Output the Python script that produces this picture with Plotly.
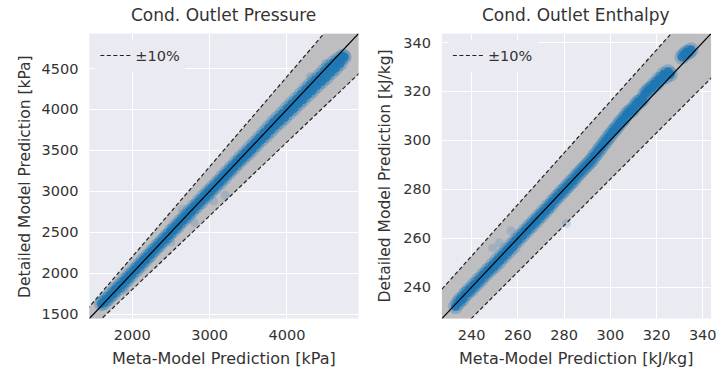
import plotly.graph_objects as go

# ---------------- data ----------------
# Left panel: condenser outlet pressure [kPa]
p_meta = [1600, 1630, 1660, 1690, 1720, 1750, 1780, 1810, 1840, 1870, 1900, 1930, 1960,
          1990, 2020, 2050, 2080, 2110, 2140, 2170, 2200, 2230, 2260, 2290, 2320, 2350,
          2380, 2410, 2440, 2470, 2500, 2530, 2560, 2590, 2620, 2650, 2680, 2710, 2740,
          2770, 2800, 2830, 2860, 2890, 2920, 2950, 2980, 3010, 3040, 3070, 3100, 3130,
          3160, 3190, 3220, 3250, 3280, 3310, 3340, 3370, 3400, 3430, 3460, 3490, 3520,
          3550, 3580, 3610, 3640, 3670, 3700, 3730, 3760, 3790, 3820, 3850, 3880, 3910,
          3940, 3970, 4000, 4030, 4060, 4090, 4120, 4150, 4180, 4210, 4240, 4270, 4300,
          4330, 4360, 4390, 4420, 4450, 4480, 4510, 4540, 4570, 4600, 4630, 4660, 4690,
          4720, 4740]
p_det = [1625, 1640, 1675, 1690, 1735, 1745, 1800, 1800, 1855, 1860, 1915, 1915, 1975,
         1975, 2035, 2040, 2095, 2095, 2155, 2160, 2210, 2220, 2270, 2285, 2330, 2345,
         2390, 2405, 2450, 2460, 2515, 2520, 2575, 2575, 2635, 2640, 2695, 2695, 2755,
         2755, 2815, 2815, 2875, 2870, 2935, 2930, 2995, 2990, 3050, 3050, 3110, 3105,
         3170, 3165, 3230, 3225, 3290, 3285, 3350, 3345, 3410, 3400, 3470, 3455, 3530,
         3510, 3590, 3570, 3650, 3630, 3715, 3680, 3775, 3740, 3840, 3800, 3895, 3850,
         3950, 3900, 4010, 3960, 4070, 4010, 4125, 4070, 4185, 4120, 4245, 4180, 4300,
         4230, 4355, 4290, 4410, 4340, 4470, 4390, 4520, 4450, 4570, 4500, 4610, 4560,
         4650, 4640]
p_out_meta = [1900, 2500, 2800, 3050, 3200, 2650, 4300, 4500]
p_out_det = [1800, 2380, 2620, 2880, 2950, 2780, 4400, 4560]

# Right panel: condenser outlet enthalpy [kJ/kg]
h_meta = [233, 234, 235, 236, 237, 238, 239, 240, 241, 242, 243, 244, 245, 246, 247, 248,
          249, 250, 251, 252, 253, 254, 255, 256, 257, 258, 259, 260, 261, 262, 263, 264,
          265, 266, 267, 268, 269, 270, 271, 272, 273, 274, 275, 276, 277, 278, 279, 280,
          281, 282, 283, 284, 285, 286, 287, 288, 289, 290, 291, 292, 293, 294, 295, 296,
          297, 298, 299, 300, 301, 302, 303, 304, 305, 306, 307, 308, 309, 310, 311, 312,
          313, 314, 315, 316, 317, 318, 319, 320, 321, 322, 323, 324, 325, 326, 331, 332,
          333, 334, 335]
h_det = [232, 233.5, 235, 235, 237, 237.5, 239, 239, 241, 241, 243, 243, 245, 245, 247,
         247, 249, 248.5, 251, 250.5, 253, 252.5, 255, 254.5, 257, 256.5, 259, 259, 261,
         261, 263, 263, 265, 265, 267, 267, 269, 269, 271, 271, 273, 273, 275, 275.5, 277,
         277.5, 279, 279.5, 281, 281.5, 283, 283.5, 285, 286, 287, 288, 289, 290, 291,
         292, 293.5, 294.5, 296, 297, 298.5, 299.5, 301, 302, 303.5, 304.5, 305.5, 307,
         308, 309, 310.5, 311.5, 312, 313, 314.5, 315.5, 316, 317, 319, 320, 321, 321.5,
         323, 323, 325, 325, 327, 326, 328, 327, 334, 335, 336, 336, 337]
h_out_meta = [252, 257, 281, 249]
h_out_det = [258, 263, 266, 256]

# axis limits and tolerance band factors
p_range = [1445, 4925]
h_range = [227.1, 343.6]
p_band = [0.9, 1.1]
h_band = [0.947, 1.053]

p_ticks_x = [2000, 3000, 4000]
p_ticks_y = [1500, 2000, 2500, 3000, 3500, 4000, 4500]
h_ticks = [240, 260, 280, 300, 320, 340]

titles = ["Cond. Outlet Pressure", "Cond. Outlet Enthalpy"]
xlabels = ["Meta-Model Prediction [kPa]", "Meta-Model Prediction [kJ/kg]"]
ylabels = ["Detailed Model Prediction [kPa]", "Detailed Model Prediction [kJ/kg]"]
legend_label = "±10%"

# ---------------- styling ----------------
BG = "#EAEAF2"
TXT = "#333333"
BLUE = "#1f77b4"
FONT = "DejaVu Sans"

fig = go.Figure()

panels = [
    dict(xa="x", ya="y", rng=p_range, band=p_band, mx=p_meta, dy=p_det,
         ox=p_out_meta, oy=p_out_det, leg="legend"),
    dict(xa="x2", ya="y2", rng=h_range, band=h_band, mx=h_meta, dy=h_det,
         ox=h_out_meta, oy=h_out_det, leg="legend2"),
]

for p in panels:
    lo, hi = p["rng"]
    ext = [lo - (hi - lo), hi + (hi - lo)]
    fl, fu = p["band"]
    fig.add_trace(go.Scatter(
        x=[ext[0], ext[1], ext[1], ext[0], ext[0]],
        y=[ext[0] * fl, ext[1] * fl, ext[1] * fu, ext[0] * fu, ext[0] * fl],
        fill="toself", fillcolor="rgba(188,188,190,0.95)", line=dict(width=0),
        mode="lines", hoverinfo="skip", showlegend=False,
        xaxis=p["xa"], yaxis=p["ya"]))
    fig.add_trace(go.Scatter(
        x=p["ox"], y=p["oy"], mode="markers",
        marker=dict(color=BLUE, size=9, opacity=0.18, line=dict(width=0)),
        showlegend=False, xaxis=p["xa"], yaxis=p["ya"]))
    # soft halo of the cloud
    fig.add_trace(go.Scatter(
        x=p["mx"], y=p["dy"], mode="markers",
        marker=dict(color=BLUE, size=15, opacity=0.3, line=dict(width=0)),
        showlegend=False, hoverinfo="skip", xaxis=p["xa"], yaxis=p["ya"]))
    # dense core
    fig.add_trace(go.Scatter(
        x=p["mx"], y=p["dy"], mode="markers",
        marker=dict(color=BLUE, size=9, opacity=0.85, line=dict(width=0)),
        showlegend=False, xaxis=p["xa"], yaxis=p["ya"]))
    fig.add_trace(go.Scatter(
        x=ext, y=ext, mode="lines", line=dict(color="black", width=1.2),
        showlegend=False, hoverinfo="skip", xaxis=p["xa"], yaxis=p["ya"]))
    fig.add_trace(go.Scatter(
        x=ext, y=[v * fu for v in ext], mode="lines",
        line=dict(color="#222222", width=1.2, dash="4px,2.5px"),
        name=legend_label, showlegend=True, legend=p["leg"],
        hoverinfo="skip", xaxis=p["xa"], yaxis=p["ya"]))
    fig.add_trace(go.Scatter(
        x=ext, y=[v * fl for v in ext], mode="lines",
        line=dict(color="#222222", width=1.2, dash="4px,2.5px"),
        showlegend=False, hoverinfo="skip", xaxis=p["xa"], yaxis=p["ya"]))

W, H = 722, 374
left_dom = [90 / W, 361 / W]
right_dom = [445 / W, 716 / W]
y_dom = [(H - 322) / H, (H - 34) / H]

axis_common = dict(showgrid=True, gridcolor="white", gridwidth=1.2, zeroline=False,
                   showline=False, ticks="", tickfont=dict(size=14.5, color=TXT, family=FONT),
                   layer="below traces")

fig.update_layout(
    width=W, height=H, margin=dict(l=0, r=0, t=0, b=0),
    paper_bgcolor="white", plot_bgcolor=BG,
    font=dict(family=FONT, color=TXT, size=14),
    xaxis=dict(domain=left_dom, range=p_range, tickvals=p_ticks_x, anchor="y",
               ticklabelstandoff=6, **axis_common),
    yaxis=dict(domain=y_dom, range=p_range, tickvals=p_ticks_y, anchor="x",
               ticklabelstandoff=10, **axis_common),
    xaxis2=dict(domain=right_dom, range=h_range, tickvals=h_ticks, anchor="y2",
                ticklabelstandoff=6, **axis_common),
    yaxis2=dict(domain=y_dom, range=h_range, tickvals=h_ticks, anchor="x2",
                ticklabelstandoff=10, **axis_common),
    legend=dict(x=96 / W, y=(H - 40) / H, xanchor="left", yanchor="top",
                bgcolor=BG, borderwidth=0, font=dict(size=14.5, color=TXT, family=FONT),
                itemwidth=30),
    legend2=dict(x=451 / W, y=(H - 40) / H, xanchor="left", yanchor="top",
                 bgcolor=BG, borderwidth=0, font=dict(size=14.5, color=TXT, family=FONT),
                 itemwidth=30),
)

ann = []
for i, dom in enumerate([left_dom, right_dom]):
    cx = (dom[0] + dom[1]) / 2
    ann.append(dict(text=titles[i], x=cx, y=1 - 15 / H, xref="paper", yref="paper",
                    showarrow=False, font=dict(size=17, color=TXT, family=FONT),
                    xanchor="center", yanchor="middle"))
    ann.append(dict(text=xlabels[i], x=cx, y=1 - 362 / H, xref="paper", yref="paper",
                    showarrow=False, font=dict(size=16, color=TXT, family=FONT),
                    xanchor="center", yanchor="middle"))
yl_x = [25 / W, 388 / W]
for i in range(2):
    ann.append(dict(text=ylabels[i], x=yl_x[i], y=(y_dom[0] + y_dom[1]) / 2,
                    xref="paper", yref="paper", showarrow=False, textangle=-90,
                    font=dict(size=15.5, color=TXT, family=FONT),
                    xanchor="center", yanchor="middle"))
fig.update_layout(annotations=ann)

fig.write_html("out.html")
